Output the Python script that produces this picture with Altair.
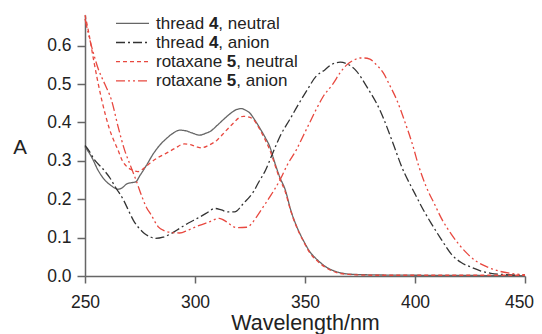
import altair as alt
import pandas as pd

# ---- data ----
series_names = ["thread 4, neutral", "thread 4, anion", "rotaxane 5, neutral", "rotaxane 5, anion"]

t4n_nm = [250, 253, 256, 259, 262, 265, 267, 269, 271, 273, 275, 278, 281, 284, 287, 290, 293, 296, 299, 302,
          305, 307, 310, 313, 316, 319, 321, 323, 325, 327, 329.5, 332, 334, 336, 338.5, 341, 343.5, 346, 349.5,
          352, 356, 360, 365, 370, 380, 400, 450]
t4n_a = [0.337, 0.310, 0.275, 0.250, 0.235, 0.226, 0.230, 0.240, 0.243, 0.245, 0.262, 0.289, 0.318, 0.341, 0.358,
         0.372, 0.380, 0.378, 0.372, 0.367, 0.372, 0.377, 0.392, 0.408, 0.423, 0.434, 0.436, 0.432, 0.424, 0.408,
         0.385, 0.360, 0.337, 0.300, 0.258, 0.225, 0.172, 0.132, 0.090, 0.065, 0.040, 0.022, 0.010, 0.005, 0.003,
         0.002, 0.001]

t4a_nm = [250, 252, 254, 258, 261.5, 264, 267.5, 270, 272, 275, 277, 280, 282, 285.5, 289, 293, 297, 301, 305, 309,
          312, 315, 318, 322, 326.5, 329, 332, 335.6, 339, 343, 347, 351, 355, 359, 362, 366, 369, 373.5, 378, 384,
          390, 394, 400, 404, 407.5, 412, 416.5, 421, 425.5, 430, 434.5, 440, 450]
t4a_a = [0.340, 0.325, 0.305, 0.280, 0.254, 0.230, 0.198, 0.168, 0.145, 0.122, 0.111, 0.101, 0.098, 0.101, 0.110,
         0.124, 0.138, 0.150, 0.163, 0.176, 0.172, 0.167, 0.167, 0.189, 0.219, 0.245, 0.275, 0.324, 0.368, 0.407,
         0.447, 0.485, 0.520, 0.537, 0.551, 0.557, 0.553, 0.533, 0.494, 0.433, 0.346, 0.284, 0.214, 0.170, 0.136,
         0.095, 0.057, 0.035, 0.023, 0.013, 0.007, 0.004, 0.002]

r5n_nm = [250, 251.5, 254, 257.6, 261, 265, 267, 269, 271.5, 274, 277, 279.5, 283, 287, 291, 295, 298, 301, 303,
          306, 310, 314, 317.4, 320, 322, 324, 326.5, 330, 334, 338.6, 341, 343.5, 346, 349.5, 352, 356, 360, 365,
          370, 380, 400, 450]
r5n_a = [0.680, 0.640, 0.560, 0.459, 0.385, 0.328, 0.300, 0.285, 0.276, 0.272, 0.282, 0.294, 0.308, 0.320, 0.333,
         0.344, 0.342, 0.336, 0.334, 0.340, 0.354, 0.378, 0.398, 0.412, 0.416, 0.415, 0.408, 0.376, 0.328, 0.252,
         0.220, 0.170, 0.130, 0.088, 0.062, 0.037, 0.020, 0.008, 0.004, 0.002, 0.002, 0.002]

r5a_nm = [250, 252, 253.8, 256, 259, 262, 265, 268, 270.5, 273.5, 276, 278, 280, 283.3, 286, 288.6, 293, 297, 302,
          306, 311, 314.4, 317, 319, 323.5, 326, 328, 331, 334, 338.6, 342, 346, 349, 352, 355, 358, 363, 366, 369,
          372, 375, 377, 379.5, 382, 385.6, 388.5, 391.7, 395, 399, 401.5, 405, 408.8, 412.5, 416.4, 420, 424, 428,
          433, 438, 443.6, 450]
r5a_a = [0.670, 0.620, 0.581, 0.540, 0.500, 0.459, 0.390, 0.328, 0.290, 0.245, 0.205, 0.178, 0.160, 0.128, 0.118,
         0.114, 0.112, 0.120, 0.132, 0.140, 0.150, 0.141, 0.130, 0.126, 0.127, 0.138, 0.154, 0.180, 0.206, 0.250,
         0.290, 0.328, 0.363, 0.398, 0.433, 0.465, 0.503, 0.530, 0.550, 0.562, 0.568, 0.568, 0.565, 0.553, 0.529,
         0.497, 0.459, 0.408, 0.340, 0.290, 0.234, 0.188, 0.145, 0.110, 0.082, 0.057, 0.038, 0.023, 0.013, 0.007,
         0.003]

leg_prefix = ["thread ", "thread ", "rotaxane ", "rotaxane "]
leg_num = ["4", "4", "5", "5"]
leg_suffix = [", neutral", ", anion", ", neutral", ", anion"]

x_ticks = [250, 300, 350, 400, 450]
y_ticks = [0.0, 0.1, 0.2, 0.3, 0.4, 0.5, 0.6]

# ---- tables ----
rows = []
for name, xs, ys in zip(series_names, [t4n_nm, t4a_nm, r5n_nm, r5a_nm], [t4n_a, t4a_a, r5n_a, r5a_a]):
    for xv, yv in zip(xs, ys):
        rows.append({"series": name, "nm": xv, "A": yv})
df = pd.DataFrame(rows)

FS_LEG = 17
W_PREFIX = {"thread ": 3.113 * FS_LEG, "rotaxane ": 4.169 * FS_LEG}
W_NUM = 0.556 * FS_LEG
leg = pd.DataFrame({"series": series_names, "prefix": leg_prefix, "num": leg_num, "suffix": leg_suffix})
leg["idx"] = range(len(leg))
leg["ly"] = 8.3 + 19.2 * leg["idx"]
leg["ty"] = leg["ly"] + 5.4
leg["tx0"] = 71.0
leg["tx1"] = leg["tx0"] + leg["prefix"].map(W_PREFIX)
leg["tx2"] = leg["tx1"] + W_NUM

colors = ["#666666", "#333333", "#e8483f", "#e8483f"]
dashes = [[1, 0], [9, 3, 2, 3], [4, 3], [9, 3, 2, 3, 2, 3]]
color_enc = alt.Color("series:N", scale=alt.Scale(domain=series_names, range=colors), legend=None)
dash_enc = alt.StrokeDash("series:N", scale=alt.Scale(domain=series_names, range=dashes), legend=None)

FONT = "Liberation Sans"

lines = alt.Chart(df).mark_line(strokeWidth=1.3, interpolate="monotone").encode(
    x=alt.X("nm:Q", scale=alt.Scale(domain=[250, 450], nice=False),
            axis=alt.Axis(values=x_ticks, title="Wavelength/nm", format="d", labelFlush=False,
                          labelOffset={"condition": {"test": "datum.value == 450", "value": -6}, "value": 0},
                          titleFontSize=21.5, titleFontWeight="normal", titleBaseline="alphabetic",
                          titleY=53, titleColor="#222222", labelPadding=10, tickSize=7)),
    y=alt.Y("A:Q", scale=alt.Scale(domain=[0, 0.68], nice=False),
            axis=alt.Axis(values=y_ticks, format=".1f", title="A", titleAngle=0, labelFlush=False,
                          titleFontSize=20.5, titleFontWeight="normal", titleAlign="center",
                          titleBaseline="alphabetic", titleX=-65.5, titleY=138, titleColor="#222222",
                          labelPadding=6, tickSize=8)),
    color=color_enc,
    strokeDash=dash_enc,
    detail="series:N",
    order="nm:Q",
)

leg_lines = alt.Chart(leg).mark_rule(strokeWidth=1.3).encode(
    x=alt.value(31), x2=alt.value(64),
    y=alt.Y("ly:Q", scale=None),
    color=color_enc,
    strokeDash=dash_enc,
)

txt_kw = dict(align="left", baseline="alphabetic", fontSize=FS_LEG, font=FONT, color="#222222")
leg_t0 = alt.Chart(leg).mark_text(**txt_kw).encode(
    x=alt.X("tx0:Q", scale=None), y=alt.Y("ty:Q", scale=None), text="prefix:N")
leg_t1 = alt.Chart(leg).mark_text(fontWeight="bold", **txt_kw).encode(
    x=alt.X("tx1:Q", scale=None), y=alt.Y("ty:Q", scale=None), text="num:N")
leg_t2 = alt.Chart(leg).mark_text(**txt_kw).encode(
    x=alt.X("tx2:Q", scale=None), y=alt.Y("ty:Q", scale=None), text="suffix:N")

chart = alt.layer(lines, leg_lines, leg_t0, leg_t1, leg_t2).properties(
    width=440, height=261,
    background="white",
    autosize=alt.AutoSizeParams(type="none"),
    padding={"left": 77, "top": 7, "right": 9, "bottom": 58},
).configure_view(stroke=None).configure_axis(
    grid=False, domainColor="#666666", domainWidth=1.5, tickColor="#666666", tickWidth=1.5,
    labelFontSize=17.5, labelFont=FONT, titleFont=FONT, labelColor="#222222",
)

chart.save("out.html", embed_options={"renderer": "svg", "actions": False})
